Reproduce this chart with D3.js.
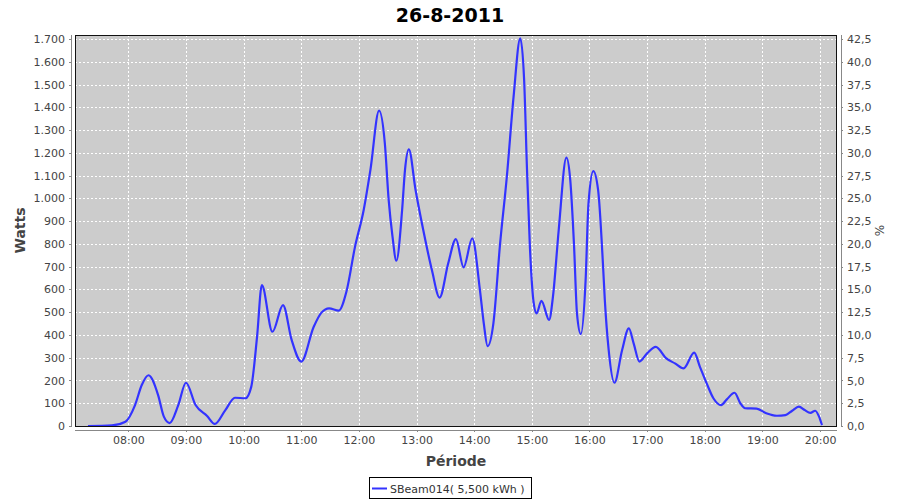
<!DOCTYPE html>
<html>
<head>
<meta charset="utf-8">
<script src="https://cdn.jsdelivr.net/npm/d3@7/dist/d3.min.js"></script>
<style>
  html, body { margin: 0; padding: 0; background: #fff; }
  svg { display: block; }
  text { font-family: "DejaVu Sans", sans-serif; }
</style>
</head>
<body>
<svg id="chart" width="900" height="500"></svg>
<script>
// ---- Data ----
const title = "26-8-2011";
const seriesName = "SBeam014( 5,500 kWh )";
const times = ["07:18","07:43","07:57","08:07","08:14","08:21","08:31","08:37","08:43","08:52",
  "09:00","09:10","09:22","09:30","09:41","09:51","10:02","10:08","10:14","10:19",
  "10:30","10:41","10:50","11:00","11:13","11:21","11:29","11:39","11:47","11:56",
  "12:05","12:12","12:21","12:27","12:31","12:35","12:39","12:45","12:48","12:52",
  "12:59","13:07","13:16","13:24","13:33","13:41","13:49","13:58","14:06","14:10",
  "14:14","14:20","14:27","14:34","14:41","14:48","14:52","14:55","14:58","15:02",
  "15:05","15:10","15:18","15:22","15:28","15:36","15:40","15:44","15:47","15:51",
  "15:56","15:59","16:04","16:09","16:14","16:16","16:20","16:26","16:34","16:41",
  "16:46","16:52","17:00","17:09","17:20","17:29","17:38","17:49","17:55","18:02",
  "18:09","18:17","18:23","18:31","18:37","18:42","18:54","19:04","19:15","19:24",
  "19:31","19:38","19:44","19:50","19:55","19:59","20:02"];
const watts = [0,3,19,92,180,223,136,41,13,92,
  190,92,44,9,70,124,122,173,392,619,
  414,531,378,283,436,498,517,507,590,788,
  949,1125,1385,1242,993,832,726,949,1125,1215,
  1037,861,685,564,715,821,697,824,597,451,
  351,451,802,1095,1446,1703,1520,1125,788,539,
  495,550,466,568,861,1179,1081,788,495,404,
  641,978,1120,1037,715,553,334,190,334,429,
  363,283,319,348,297,275,253,322,260,187,
  122,92,117,146,100,78,76,56,45,48,
  67,85,70,58,67,41,4];
const hourTicks = ["08:00","09:00","10:00","11:00","12:00","13:00","14:00","15:00","16:00","17:00","18:00","19:00","20:00"];
const wattTicks = [0,100,200,300,400,500,600,700,800,900,1000,1100,1200,1300,1400,1500,1600,1700];
const pctTicks = [0,2.5,5,7.5,10,12.5,15,17.5,20,22.5,25,27.5,30,32.5,35,37.5,40,42.5];
const wattsPerPercent = 40;
const timeRange = ["07:04:30","20:17:40"];
const wattMax = 1717.6;

// ---- Helpers ----
const parseT = s => {
  const p = s.split(":").map(Number);
  return new Date(2011, 7, 26, p[0], p[1], p[2] || 0);
};
const data = times.map((t, i) => ({ t: parseT(t), w: watts[i] }));

// ---- Layout ----
const svg = d3.select("#chart");
const L = 75, R = 837, T = 35, B = 426;

const x = d3.scaleTime().domain(timeRange.map(parseT)).range([L, R]);
const y = d3.scaleLinear().domain([0, wattMax]).range([B, T]);
const y2 = d3.scaleLinear().domain([0, wattMax / wattsPerPercent]).range([B, T]);

// Plot background
svg.append("rect").attr("x", L).attr("y", T).attr("width", R - L).attr("height", B - T)
  .attr("fill", "#cccccc");

// Gridlines
const grid = svg.append("g").attr("stroke", "#ffffff").attr("stroke-width", 1)
  .attr("stroke-dasharray", "2,2").attr("shape-rendering", "crispEdges");
grid.selectAll("line.h").data(wattTicks.filter(d => d > 0)).join("line")
  .attr("x1", L).attr("x2", R)
  .attr("y1", d => Math.round(y(d)) + 0.5).attr("y2", d => Math.round(y(d)) + 0.5);
grid.selectAll("line.v").data(hourTicks.map(parseT)).join("line")
  .attr("y1", T).attr("y2", B)
  .attr("x1", d => Math.round(x(d)) + 0.5).attr("x2", d => Math.round(x(d)) + 0.5);

// Line
svg.append("clipPath").attr("id", "clip").append("rect")
  .attr("x", L).attr("y", T - 5).attr("width", R - L).attr("height", B - T + 5);
svg.append("path").datum(data)
  .attr("clip-path", "url(#clip)")
  .attr("fill", "none").attr("stroke", "#3333ff").attr("stroke-width", 2.2)
  .attr("stroke-linejoin", "round")
  .attr("d", d3.line().x(d => x(d.t)).y(d => y(d.w)).curve(d3.curveMonotoneX));

// Plot outline
svg.append("rect").attr("x", L + 0.5).attr("y", T + 0.5).attr("width", R - L - 1).attr("height", B - T)
  .attr("fill", "none").attr("stroke", "#111").attr("stroke-width", 1).attr("shape-rendering", "crispEdges");

// Axes
const loc = d3.formatLocale({ decimal: ",", thousands: ".", grouping: [3], currency: ["", ""] });
const fmtW = loc.format(",d");
const fmtP = loc.format(".1f");

function styleAxis(g) {
  g.select(".domain").attr("stroke", "#888");
  g.selectAll(".tick line").attr("stroke", "#888");
  g.selectAll(".tick text").attr("fill", "#444").style("font-size", "11px")
    .style("font-family", "'DejaVu Sans', sans-serif");
  g.attr("shape-rendering", "crispEdges");
}

const yAxisL = svg.append("g").attr("transform", `translate(${L - 4},0)`)
  .call(d3.axisLeft(y).tickValues(wattTicks).tickFormat(fmtW).tickSize(2).tickSizeOuter(0).tickPadding(4));
styleAxis(yAxisL);
yAxisL.select(".domain").attr("d", `M0.5,${T}V${B + 0.5}`);

const yAxisR = svg.append("g").attr("transform", `translate(${R + 4},0)`)
  .call(d3.axisRight(y2).tickValues(pctTicks).tickFormat(fmtP).tickSize(2).tickSizeOuter(0).tickPadding(4));
styleAxis(yAxisR);
yAxisR.select(".domain").attr("d", `M0.5,${T}V${B + 0.5}`);

const xAxis = svg.append("g").attr("transform", `translate(0,${B + 4})`)
  .call(d3.axisBottom(x).tickValues(hourTicks.map(parseT)).tickFormat(d3.timeFormat("%H:%M"))
    .tickSize(2).tickSizeOuter(0).tickPadding(4));
styleAxis(xAxis);
xAxis.select(".domain").attr("d", `M${L},0.5H${R}`);

// Title & labels
svg.append("text").attr("x", (L + R) / 2 - 6).attr("y", 22).attr("text-anchor", "middle")
  .style("font-size", "19px").style("font-weight", "bold").attr("fill", "#000").text(title);

svg.append("text").attr("transform", `translate(25,${(T + B) / 2}) rotate(-90)`)
  .attr("text-anchor", "middle").style("font-size", "14px").style("font-weight", "bold")
  .attr("fill", "#444").text("Watts");

svg.append("text").attr("x", (L + R) / 2).attr("y", 466).attr("text-anchor", "middle")
  .style("font-size", "14px").style("font-weight", "bold").attr("fill", "#444").text("Période");

svg.append("text").attr("transform", `translate(884,${(T + B) / 2}) rotate(-90)`)
  .attr("text-anchor", "middle").style("font-size", "12px").attr("fill", "#444").text("%");

// Legend
const lg = svg.append("g");
lg.append("rect").attr("x", 369.5).attr("y", 477.5).attr("width", 162).attr("height", 21)
  .attr("fill", "#fff").attr("stroke", "#000").attr("shape-rendering", "crispEdges");
lg.append("line").attr("x1", 372).attr("x2", 387).attr("y1", 488.5).attr("y2", 488.5)
  .attr("stroke", "#3333ff").attr("stroke-width", 2);
lg.append("text").attr("x", 390).attr("y", 492.5).style("font-size", "11px").attr("fill", "#333")
  .text(seriesName);
</script>
</body>
</html>
